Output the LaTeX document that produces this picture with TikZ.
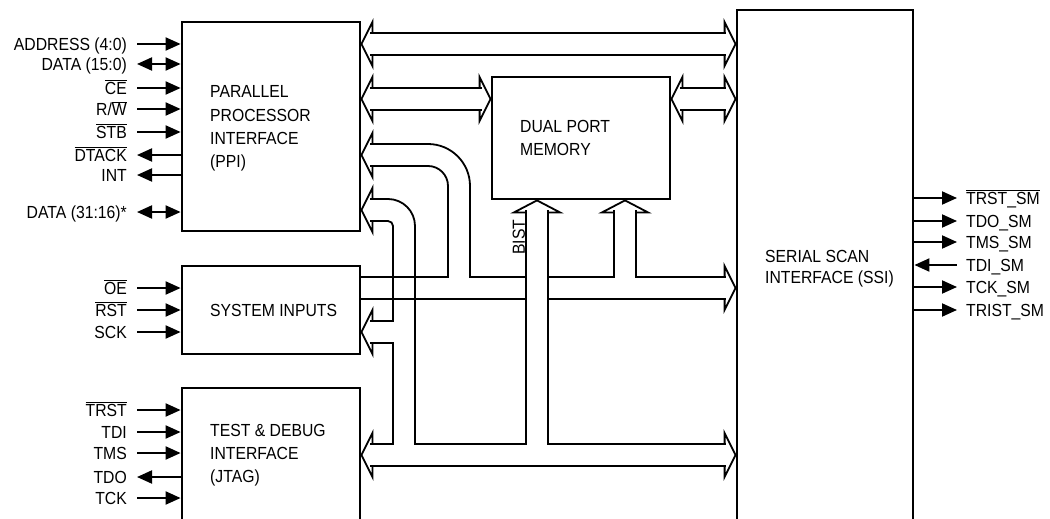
\documentclass[tikz,border=0pt]{standalone}
\usepackage{fontspec}
\setmainfont{Liberation Sans}[FakeStretch=0.9]
\usetikzlibrary{arrows.meta,calc}
\newcommand\ovl[1]{$\overline{\hbox{#1}}$}
\newcommand\blines[1]{\begin{tabular}[t]{@{}l@{}}#1\end{tabular}}
\newcommand\hdL[1]{($(#1)+(11,-11)$) -- ($(#1)+(11,-22)$) -- (#1) -- ($(#1)+(11,22)$) -- ($(#1)+(11,11)$)}
\newcommand\hdR[1]{($(#1)+(-11,-11)$) -- ($(#1)+(-11,-22)$) -- (#1) -- ($(#1)+(-11,22)$) -- ($(#1)+(-11,11)$)}
\newcommand\hdU[1]{($(#1)+(-11,12)$) -- ($(#1)+(-23,12)$) -- (#1) -- ($(#1)+(23,12)$) -- ($(#1)+(11,12)$)}
\begin{document}
\begin{tikzpicture}[x=1pt,y=-1pt,
  every node/.style={inner sep=0pt,font=\fontsize{17.5}{23.3}\selectfont},
  box/.style={draw,line width=2.8pt},
  sig/.style={line width=2pt,>={Triangle[length=15pt,width=13pt]}},
  bus/.style={line width=1.8pt,line cap=rect,line join=miter},
  sl/.style={text height=12.5pt,text depth=0pt,anchor=east},
  sr/.style={text height=12.5pt,text depth=0pt,anchor=west},
  boxlbl/.style={text height=12.5pt,text depth=0pt,anchor=west},
  ml/.style={anchor=base west}]
\useasboundingbox (0,0) rectangle (1050,519);
\clip (0,0) rectangle (1050,519);

% boxes
\node[box,minimum width=178pt,minimum height=209pt] (ppi) at (271,126.5) {};
\node[box,minimum width=178pt,minimum height=88pt] (sys) at (271,310) {};
\node[box,minimum width=178pt,minimum height=180pt] (jtag) at (271,478) {};
\node[box,minimum width=178pt,minimum height=122pt] (dpm) at (581,138) {};
\node[box,minimum width=176pt,minimum height=560pt] (ssi) at (825,290) {};

% box texts
\node[ml] (ppiT) at (210,98) {\blines{PARALLEL\\PROCESSOR\\INTERFACE\\(PPI)}};
\node[ml] (dpmT) at (520,132) {\blines{DUAL PORT\\MEMORY}};
\node[boxlbl] (sysT) at (210,310) {SYSTEM INPUTS};
\node[ml] (jtagT) at (210,436) {\blines{TEST \& DEBUG\\INTERFACE\\(JTAG)}};
\node[ml,font=\fontsize{17.5}{21.5}\selectfont] (ssiT) at (765,262) {\blines{SERIAL SCAN\\INTERFACE (SSI)}};
\node[rotate=90,text height=12.5pt,text depth=0pt] (bist) at (518.5,237) {BIST};

% left signals PPI
\node[sl] (a1) at (127,44) {ADDRESS (4:0)};
\node[sl] (a2) at (127,64) {DATA (15:0)};
\node[sl] (a3) at (127,88) {\ovl{CE}};
\node[sl] (a4) at (127,109) {R/\ovl{W}};
\node[sl] (a5) at (127,132) {\ovl{STB}};
\node[sl] (a6) at (127,155) {\ovl{DTACK}};
\node[sl] (a7) at (127,175) {INT};
\node[sl] (a8) at (127,212) {DATA (31:16)*};
\draw[sig,->] ([xshift=10pt]a1.east) -- (a1.east -| ppi.west);
\draw[sig,<->] ([xshift=10pt]a2.east) -- (a2.east -| ppi.west);
\draw[sig,->] ([xshift=10pt]a3.east) -- (a3.east -| ppi.west);
\draw[sig,->] ([xshift=10pt]a4.east) -- (a4.east -| ppi.west);
\draw[sig,->] ([xshift=10pt]a5.east) -- (a5.east -| ppi.west);
\draw[sig,<-] ([xshift=10pt]a6.east) -- (a6.east -| ppi.west);
\draw[sig,<-] ([xshift=10pt]a7.east) -- (a7.east -| ppi.west);
\draw[sig,<->] ([xshift=10pt]a8.east) -- (a8.east -| ppi.west);

% system inputs signals
\node[sl] (b1) at (127,288) {\ovl{OE}};
\node[sl] (b2) at (127,310) {\ovl{RST}};
\node[sl] (b3) at (127,332) {SCK};
\draw[sig,->] ([xshift=10pt]b1.east) -- (b1.east -| sys.west);
\draw[sig,->] ([xshift=10pt]b2.east) -- (b2.east -| sys.west);
\draw[sig,->] ([xshift=10pt]b3.east) -- (b3.east -| sys.west);

% jtag signals
\node[sl] (c1) at (127,410) {\ovl{TRST}};
\node[sl] (c2) at (127,432) {TDI};
\node[sl] (c3) at (127,453) {TMS};
\node[sl] (c4) at (127,477) {TDO};
\node[sl] (c5) at (127,498) {TCK};
\draw[sig,->] ([xshift=10pt]c1.east) -- (c1.east -| jtag.west);
\draw[sig,->] ([xshift=10pt]c2.east) -- (c2.east -| jtag.west);
\draw[sig,->] ([xshift=10pt]c3.east) -- (c3.east -| jtag.west);
\draw[sig,<-] ([xshift=10pt]c4.east) -- (c4.east -| jtag.west);
\draw[sig,->] ([xshift=10pt]c5.east) -- (c5.east -| jtag.west);

% right signals
\node[sr] (r1) at (966,198) {\ovl{TRST\_SM}};
\node[sr] (r2) at (966,221) {TDO\_SM};
\node[sr] (r3) at (966,242) {TMS\_SM};
\node[sr] (r4) at (966,265) {TDI\_SM};
\node[sr] (r5) at (966,287) {TCK\_SM};
\node[sr] (r6) at (966,310) {TRIST\_SM};
\draw[sig,->] (r1.west -| ssi.east) -- ([xshift=-9pt]r1.west);
\draw[sig,->] (r2.west -| ssi.east) -- ([xshift=-9pt]r2.west);
\draw[sig,->] (r3.west -| ssi.east) -- ([xshift=-9pt]r3.west);
\draw[sig,<-] (r4.west -| ssi.east) -- ([xshift=-9pt]r4.west);
\draw[sig,->] (r5.west -| ssi.east) -- ([xshift=-9pt]r5.west);
\draw[sig,->] (r6.west -| ssi.east) -- ([xshift=-9pt]r6.west);

% bus arrow tips
\coordinate (h1a) at (ppi.east |- 0,44);
\coordinate (h1b) at (ssi.west |- 0,44);
\coordinate (h2a) at (ppi.east |- 0,99);
\coordinate (h2b) at (dpm.west |- 0,99);
\coordinate (h3a) at (dpm.east |- 0,99);
\coordinate (h3b) at (ssi.west |- 0,99);
\coordinate (h4) at (ppi.east |- 0,155);
\coordinate (h5) at (ppi.east |- 0,210);
\coordinate (h6) at (sys.east |- 0,332);
\coordinate (h7a) at (jtag.east |- 0,455);
\coordinate (h7b) at (ssi.west |- 0,455);
\coordinate (h8) at (ssi.west |- 0,288);
\coordinate (h9) at (dpm.south -| 537,0);
\coordinate (h10) at (dpm.south -| 625,0);

% PPI <-> SSI, PPI <-> DPM, DPM <-> SSI
\draw[bus] \hdL{h1a} \hdR{h1b} \hdL{h2a} \hdR{h2b} \hdL{h3a} \hdR{h3b};
\draw[bus] (371,33) -- (725,33) (371,55) -- (725,55)
  (371,88) -- (481,88) (371,110) -- (481,110)
  (681,88) -- (725,88) (681,110) -- (725,110);

% PPI bus down to system bus
\draw[bus] \hdL{h4};
\draw[bus,rounded corners=42pt] (371,144) -- (470,144) -- (470,277);
\draw[bus,rounded corners=20pt] (371,166) -- (448,166) -- (448,277);

% system inputs -> SSI bus
\draw[bus] (360,277) -- (448,277) (470,277) -- (526,277) (548,277) -- (614,277) (636,277) -- (725,277)
  (360,299) -- (526,299) (548,299) -- (725,299);
\draw[bus] \hdR{h8};

% DPM second port
\draw[bus] \hdU{h10} (614,211) -- (614,277) (636,211) -- (636,277);
% BIST
\draw[bus] \hdU{h9} (526,211) -- (526,444) (548,211) -- (548,444);

% PPI bus down to system inputs and JTAG
\draw[bus] \hdL{h5};
\draw[bus,rounded corners=27pt] (371,199) -- (415,199) -- (415,444);
\draw[bus,rounded corners=5pt] (371,221) -- (393,221) -- (393,250);
\draw[bus] (393,250) -- (393,321) -- (371,321);
\draw[bus] \hdL{h6};
\draw[bus] (371,343) -- (393,343) -- (393,444) -- (371,444);

% JTAG <-> SSI bus
\draw[bus] \hdL{h7a} \hdR{h7b};
\draw[bus] (415,444) -- (526,444) (548,444) -- (725,444) (371,466) -- (725,466);
\end{tikzpicture}
\end{document}
